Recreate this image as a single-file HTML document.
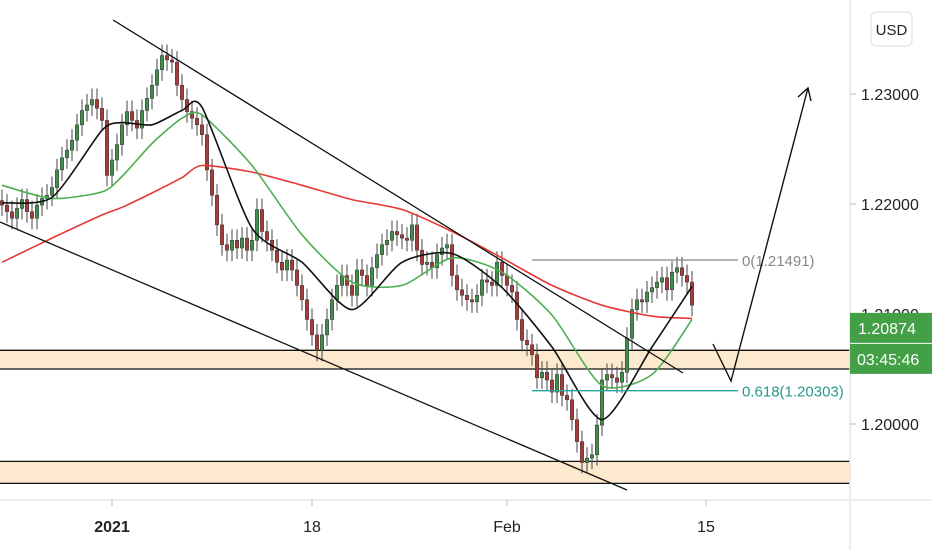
<!DOCTYPE html>
<html><head><meta charset="utf-8"><style>
body{margin:0;background:#fff;}
svg{display:block;font-family:"Liberation Sans",sans-serif;}
</style></head><body>
<svg id="chart" width="932" height="550" viewBox="0 0 932 550" xmlns="http://www.w3.org/2000/svg">
<rect x="0" y="0" width="932" height="550" fill="#fff"/>
<g id="zones"></g>
<g id="candles"></g>
<g id="mas"></g>
<g id="draw"></g>
<g id="axes"></g>
</svg>
<script>
const closes=[1.2199,1.2193,1.2187,1.2196,1.2204,1.2193,1.2187,1.2199,1.2205,1.2208,1.2215,1.2231,1.2242,1.2249,1.2258,1.2272,1.2285,1.2290,1.2295,1.2287,1.2276,1.2226,1.2240,1.2254,1.2272,1.2284,1.2276,1.2269,1.2285,1.2296,1.2308,1.2322,1.2335,1.2331,1.2329,1.2308,1.2295,1.2284,1.2278,1.2272,1.2263,1.2231,1.2208,1.2181,1.2163,1.2158,1.2167,1.2160,1.2169,1.2158,1.2167,1.2195,1.2175,1.2167,1.2158,1.2147,1.2140,1.2149,1.2140,1.2126,1.2113,1.2095,1.2081,1.2067,1.2081,1.2095,1.2113,1.2126,1.2135,1.2126,1.2117,1.2140,1.2135,1.2126,1.2142,1.2154,1.2163,1.2167,1.2175,1.2172,1.2169,1.2167,1.2181,1.2158,1.2145,1.2147,1.2142,1.2154,1.2160,1.2163,1.2135,1.2122,1.2117,1.2113,1.2111,1.2117,1.2131,1.2129,1.2126,1.2147,1.2135,1.2126,1.2120,1.2095,1.2076,1.2072,1.2063,1.2042,1.2047,1.2040,1.2029,1.2045,1.2026,1.2022,1.2004,1.1984,1.1965,1.1969,1.1972,1.1999,1.2040,1.2045,1.2042,1.2038,1.2047,1.2078,1.2104,1.2113,1.2111,1.2120,1.2124,1.2129,1.2133,1.2122,1.2138,1.2142,1.2135,1.2129,1.2108];
const maIndex=[0,10,20,24,30,36,40,50,60,70,80,90,100,110,120,130,138];
const maSlow=[1.2147,1.2169,1.2190,1.2197,1.2210,1.2224,1.2235,1.2229,1.2217,1.2204,1.2195,1.2175,1.2151,1.2126,1.2108,1.2098,1.2096];
const maMid=[1.2217,1.2205,1.2211,1.2225,1.2255,1.2278,1.2281,1.2235,1.2172,1.2129,1.2126,1.2151,1.2138,1.2099,1.2035,1.2045,1.2095];
const maFast=[1.2201,1.2206,1.2267,1.2274,1.2272,1.2285,1.2288,1.2178,1.2147,1.2104,1.2147,1.2155,1.2124,1.2070,1.2004,1.2070,1.2125];
const priceTicks=[1.23,1.22,1.21,1.20];
const dateLabels=["2021","18","Feb","15"];
const dateIndex=[22,62,101,140.8];
const zones=[[1.2067,1.2050],[1.1966,1.1946]];
const lastPrice=1.20874;
const fib0=1.21491, fib618=1.20303;

const NS="http://www.w3.org/2000/svg";
const y=p=>424-(p-1.2)*11000;
const x=i=>2+i*5;
function mk(tag,attrs,parent){const e=document.createElementNS(NS,tag);for(const k in attrs)e.setAttribute(k,attrs[k]);parent.appendChild(e);return e;}
const gZ=document.getElementById('zones'),gC=document.getElementById('candles'),gM=document.getElementById('mas'),gD=document.getElementById('draw'),gA=document.getElementById('axes');

zones.forEach((z,k)=>{
  const r=mk('rect',{x:0,y:y(z[0]),width:850,height:y(z[1])-y(z[0]),fill:'#fde9cd'},gZ);
  
  
  [z[0],z[1]].forEach(p=>{const l=mk('line',{x1:0,x2:850,y1:y(p),y2:y(p),stroke:'#111','stroke-width':1.3},gZ);
    
    });
});

closes.forEach((c,i)=>{
  const o=i===0?c+0.0004:closes[i-1];
  const hi=Math.max(o,c)+0.0010, lo=Math.min(o,c)-0.0010;
  const up=c>=o;
  const g=mk('g',{},gC);
  
  
  mk('line',{x1:x(i),x2:x(i),y1:y(hi),y2:y(lo),stroke:'#555','stroke-width':1.1},g);
  const t=Math.min(y(o),y(c)),h=Math.max(1.5,Math.abs(y(o)-y(c)));
  mk('rect',{x:x(i)-1.7,y:t,width:3.4,height:h,fill:up?'#3f8f4a':'#a83a3a',stroke:'#333','stroke-width':0.5},g);
});

function smooth(vals){
  const pts=vals.map((v,k)=>[x(maIndex[k]),y(v)]);
  let d='M'+pts[0][0]+','+pts[0][1];
  for(let k=0;k<pts.length-1;k++){
    const p0=pts[k-1]||pts[k],p1=pts[k],p2=pts[k+1],p3=pts[k+2]||p2;
    const t=0.12;
    d+=' C'+(p1[0]+(p2[0]-p0[0])*t)+','+(p1[1]+(p2[1]-p0[1])*t)+' '+(p2[0]-(p3[0]-p1[0])*t)+','+(p2[1]-(p3[1]-p1[1])*t)+' '+p2[0]+','+p2[1];
  }
  return d;
}
[[maSlow,'#e53935','ma-slow'],[maMid,'#4caf50','ma-mid'],[maFast,'#111','ma-fast']].forEach(m=>{
  const p=mk('path',{d:smooth(m[0]),fill:'none',stroke:m[1],'stroke-width':1.6},gM);
  
  
});

const tl1=mk('line',{x1:113,y1:20,x2:683,y2:373,stroke:'#111','stroke-width':1.3},gD);


const tl2=mk('line',{x1:0,y1:222,x2:627,y2:490,stroke:'#111','stroke-width':1.3},gD);


const f0=mk('line',{x1:532,x2:738,y1:y(fib0),y2:y(fib0),stroke:'#888','stroke-width':1.3},gD);


const f0t=mk('text',{x:742,y:y(fib0)+6,fill:'#888','font-size':15},gD);f0t.textContent='0('+fib0.toFixed(5)+')';


const f6=mk('line',{x1:532,x2:738,y1:y(fib618),y2:y(fib618),stroke:'#26a69a','stroke-width':1.3},gD);


const f6t=mk('text',{x:742,y:y(fib618)+6,fill:'#26998c','font-size':15},gD);f6t.textContent='0.618('+fib618.toFixed(5)+')';


const ar=mk('path',{d:'M713,344 L731,381 L808,88 M798,97 L808,88 L811,101',fill:'none',stroke:'#111','stroke-width':1.4},gD);



const ax=mk('line',{x1:850,x2:850,y1:0,y2:550,stroke:'#e6e6e6','stroke-width':1.5},gA);


const bx=mk('line',{x1:0,x2:932,y1:500,y2:500,stroke:'#e6e6e6','stroke-width':1.5},gA);


priceTicks.forEach(p=>{
  mk('line',{x1:850,x2:856,y1:y(p),y2:y(p),stroke:'#bbb'},gA);
  const t=mk('text',{x:861,y:y(p)+6,fill:'#222','font-size':16},gA);t.textContent=p.toFixed(5);
  
  
});
dateLabels.forEach((d,k)=>{
  const xx=x(dateIndex[k]);
  mk('line',{x1:xx,x2:xx,y1:500,y2:506,stroke:'#bbb'},gA);
  const t=mk('text',{x:xx,y:532,fill:'#222','font-size':16,'text-anchor':'middle','font-weight':k===0?'bold':'normal'},gA);t.textContent=d;
  
  
});
const lp=mk('rect',{x:850,y:y(lastPrice)-15,width:82,height:30,fill:'#43a047'},gA);


const lpt=mk('text',{x:858,y:y(lastPrice)+6,fill:'#fff','font-size':16},gA);lpt.textContent=lastPrice.toFixed(5);


const cd=mk('rect',{x:850,y:y(lastPrice)+16,width:82,height:30,fill:'#43a047'},gA);


const cdt=mk('text',{x:857,y:y(lastPrice)+37,fill:'#fff','font-size':16},gA);cdt.textContent='03:45:46';


const ub=mk('rect',{x:871,y:12,width:41,height:34,rx:5,fill:'#fff',stroke:'#ddd'},gA);


const ut=mk('text',{x:891.5,y:35,fill:'#222','font-size':15,'text-anchor':'middle'},gA);ut.textContent='USD';


</script>
</body></html>
